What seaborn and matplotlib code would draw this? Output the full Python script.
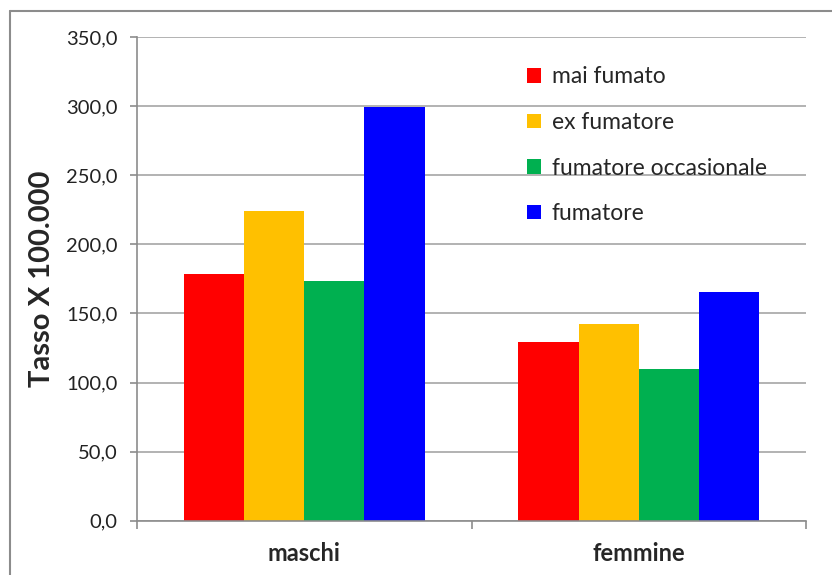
import matplotlib
matplotlib.use("Agg")
import matplotlib.pyplot as plt
import seaborn as sns
import pandas as pd
from matplotlib.lines import Line2D
from matplotlib.ticker import FuncFormatter

categories = ["maschi", "femmine"]
series = ["mai fumato", "ex fumatore", "fumatore occasionale", "fumatore"]
maschi_vals = [178.5, 224.4, 173.5, 299.6]
femmine_vals = [129.3, 142.0, 109.7, 165.5]
colors = ["#FF0000", "#FFC000", "#00B050", "#0000FF"]

rows = []
for s, m, f in zip(series, maschi_vals, femmine_vals):
    rows.append({"sesso": "maschi", "gruppo": s, "tasso": m})
    rows.append({"sesso": "femmine", "gruppo": s, "tasso": f})
df = pd.DataFrame(rows)

sns.set_style("white")
plt.rcParams["font.family"] = ["Lato", "DejaVu Sans"]

fig = plt.figure(figsize=(8.32, 5.75), dpi=100)
ax = fig.add_axes([137/832, (575-520.7)/575, (806-137)/832, (520.7-37)/575])

sns.barplot(data=df, x="sesso", y="tasso", hue="gruppo", order=categories,
            hue_order=series, palette=colors, width=0.72, gap=0,
            linewidth=0, saturation=1, ax=ax, errorbar=None)

ax.set_ylim(0, 350)
ax.set_xlim(-0.5, 1.5)
ax.set_yticks(range(0, 351, 50))
ax.yaxis.set_major_formatter(FuncFormatter(lambda v, p: f"{v:.1f}".replace(".", ",")))
ax.grid(axis="y", color="#A6A6A6", linewidth=1.2)
ax.set_axisbelow(True)
for side in ["top", "right"]:
    ax.spines[side].set_visible(False)
for side in ["left", "bottom"]:
    ax.spines[side].set_visible(True)
    ax.spines[side].set_color("#8C8C8C")
    ax.spines[side].set_linewidth(1.2)

ax.tick_params(axis="y", which="major", left=True, length=5, width=1.2,
               color="#8C8C8C", labelsize=14.5, labelcolor="#222222", pad=9)
ax.set_xticks([0, 1])
ax.set_xticklabels(categories, fontsize=17, fontweight="bold")
ax.tick_params(axis="x", which="major", length=0, pad=15)
ax.set_xticks([-0.5, 0.5, 1.5], minor=True)
ax.tick_params(axis="x", which="minor", bottom=True, length=6, width=1.2, color="#8C8C8C")

ax.set_xlabel("")
ax.set_ylabel("Tasso X 100.000", fontsize=21, fontweight="bold", labelpad=8)

leg = ax.legend(loc="upper left", bbox_to_anchor=(0.57, 0.958), frameon=False,
                fontsize=16.5, handlelength=0.6, handleheight=0.6,
                handletextpad=0.45, labelspacing=1.07, borderaxespad=0)
leg.set_title(None)

fig.add_artist(Line2D([10/832, 10/832], [0, (575-11)/575], transform=fig.transFigure,
                      color="#8C8C8C", linewidth=1.5))
fig.add_artist(Line2D([10/832, 1], [(575-11)/575, (575-11)/575], transform=fig.transFigure,
                      color="#8C8C8C", linewidth=1.5))

fig.savefig("out.png", dpi=100)
